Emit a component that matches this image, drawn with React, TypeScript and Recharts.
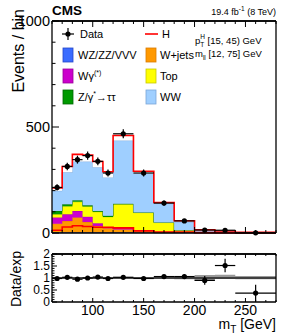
import React from 'react';
import { ComposedChart, Area, Line, Scatter, XAxis, YAxis, ErrorBar, ReferenceLine } from 'recharts';

const FONT = '"Liberation Sans", Arial, Helvetica, sans-serif';

// histogram bin edges in m_T (GeV)
const binEdges = [60, 70, 80, 90, 100, 110, 120, 140, 160, 180, 200, 220, 240, 280];

// stacked backgrounds (events / bin), bottom to top
const vvvEvents = [3, 3, 3, 3, 3, 3, 3, 2, 1, 1, 0.3, 0.2, 0.1];
const wjetsEvents = [41, 54, 70, 49, 30, 19, 14, 8, 4, 3, 1.5, 0.8, 0.4];
const wgEvents = [29, 31, 31, 25, 13, 6, 8, 2, 1, 1, 0.2, 0.1, 0.1];
const topEvents = [15, 38, 43, 48, 54, 48, 111, 84, 43, 8, 3, 2, 1];
const dyEvents = [16, 10, 8, 6, 4, 5, 2, 1, 1, 0.5, 0.2, 0.1, 0.1];
const wwEvents = [95, 150, 182, 206, 206, 181, 298, 184, 89, 39, 8, 5, 1];
const higgsEvents = [13, 28, 34, 31, 27, 27, 24, 10, 5, 5, 2, 1, 0.5];

// observed data
const dataEvents = [215, 314, 346, 365, 338, 283, 468, 283, 141, 57, 14, 13, 1];

// ratio panel
const ratioValues = [0.98, 1.03, 0.95, 1.0, 1.04, 0.98, 1.03, 0.98, 1.06, 1.06, 0.9, 1.52, 0.37];
const ratioErrors = [0.06, 0.05, 0.05, 0.05, 0.05, 0.05, 0.04, 0.05, 0.07, 0.1, 0.18, 0.28, 0.35];
const bandLow = [0.98, 0.98, 0.98, 0.98, 0.98, 0.98, 0.98, 0.98, 0.97, 0.95, 0.9, 0.96, 0.95];
const bandHigh = [1.02, 1.02, 1.02, 1.02, 1.02, 1.02, 1.02, 1.02, 1.03, 1.06, 1.12, 1.14, 1.08];

// axis ticks
const xTicks = [60, 70, 80, 90, 100, 110, 120, 130, 140, 150, 160, 170, 180, 190, 200, 210, 220, 230, 240, 250, 260, 270, 280];
const xMajorTicks = [100, 150, 200, 250];
const yMainTicks = [0, 100, 200, 300, 400, 500, 600, 700, 800, 900, 1000];
const yMainMajor = [0, 500, 1000];
const yMainMax = 1000;
const yRatioTicks = [0, 0.1, 0.2, 0.3, 0.4, 0.5, 0.6, 0.7, 0.8, 0.9, 1, 1.1, 1.2, 1.3, 1.4, 1.5, 1.6, 1.7, 1.8, 1.9, 2];
const yRatioMajor = [0, 0.5, 1, 1.5, 2];
const yRatioMax = 2;

const nBins = binEdges.length - 1;

const mainRows = binEdges.map((x, i) => {
  const j = Math.min(i, nBins - 1);
  return {
    x,
    vvv: vvvEvents[j],
    wjets: wjetsEvents[j],
    wg: wgEvents[j],
    top: topEvents[j],
    dy: dyEvents[j],
    ww: wwEvents[j],
    higgs: higgsEvents[j],
    hLine: higgsEvents[j],
  };
});

const dataPoints = dataEvents.map((v, i) => ({
  x: (binEdges[i] + binEdges[i + 1]) / 2,
  y: v,
  ex: (binEdges[i + 1] - binEdges[i]) / 2,
  ey: Math.sqrt(v),
}));

const ratioRows = binEdges.map((x, i) => {
  const j = Math.min(i, nBins - 1);
  return { x, band: [bandLow[j], bandHigh[j]] };
});

const ratioPoints = ratioValues.map((v, i) => ({
  x: (binEdges[i] + binEdges[i + 1]) / 2,
  y: v,
  ex: (binEdges[i + 1] - binEdges[i]) / 2,
  ey: ratioErrors[i],
}));

type TickCfg = {
  side: 'bottom' | 'top' | 'left' | 'right';
  major: number[];
  majorLen: number;
  minorLen: number;
  label?: boolean;
  skipLabel?: number;
  fontSize?: number;
  offset?: number;
};

const near = (arr: number[], v: number) => arr.some((m) => Math.abs(m - v) < 1e-6);

const makeTick = (cfg: TickCfg) => (props: any) => {
  const { x, y, payload } = props;
  const v = Number(payload.value);
  const isMajor = near(cfg.major, v);
  const len = isMajor ? cfg.majorLen : cfg.minorLen;
  let x2 = x;
  let y2 = y;
  if (cfg.side === 'bottom') y2 = y - len;
  if (cfg.side === 'top') y2 = y + len;
  if (cfg.side === 'left') x2 = x + len;
  if (cfg.side === 'right') x2 = x - len;
  let label = null;
  const showLabel = cfg.label && isMajor && !(cfg.skipLabel !== undefined && Math.abs(cfg.skipLabel - v) < 1e-6);
  if (showLabel) {
    if (cfg.side === 'bottom') {
      label = (
        <text x={x} y={y + (cfg.offset || 0)} textAnchor="middle" fontSize={cfg.fontSize} fontFamily={FONT} fill="#000">
          {String(v)}
        </text>
      );
    } else if (cfg.side === 'left') {
      label = (
        <text x={x - (cfg.offset || 0)} y={y} dy="0.36em" textAnchor="end" fontSize={cfg.fontSize} fontFamily={FONT} fill="#000">
          {String(v)}
        </text>
      );
    }
  }
  return (
    <g>
      <line x1={x} y1={y} x2={x2} y2={y2} stroke="#000" strokeWidth={1} />
      {label}
    </g>
  );
};

const noText = () => '';
const frame = { stroke: '#000', strokeWidth: 1.3 };

const mainBottomTick = makeTick({ side: 'bottom', major: xMajorTicks, majorLen: 6, minorLen: 3 });
const mainTopTick = makeTick({ side: 'top', major: xMajorTicks, majorLen: 6, minorLen: 3 });
const mainLeftTick = makeTick({ side: 'left', major: yMainMajor, majorLen: 7, minorLen: 3.5, label: true, skipLabel: yMainMax, fontSize: 14.5, offset: 2 });
const mainRightTick = makeTick({ side: 'right', major: yMainMajor, majorLen: 7, minorLen: 3.5 });

const ratioBottomTick = makeTick({ side: 'bottom', major: xMajorTicks, majorLen: 4, minorLen: 2, label: true, fontSize: 14, offset: 13 });
const ratioTopTick = makeTick({ side: 'top', major: xMajorTicks, majorLen: 4, minorLen: 2 });
const ratioLeftTick = makeTick({ side: 'left', major: yRatioMajor, majorLen: 5, minorLen: 2.5, label: true, skipLabel: yRatioMax, fontSize: 12, offset: 2 });
const ratioRightTick = makeTick({ side: 'right', major: yRatioMajor, majorLen: 5, minorLen: 2.5 });

const dot = (p: any) => <circle cx={p.cx} cy={p.cy} r={2.6} fill="#000" />;

type LegendItem = { name: string; fill: string; stroke: string };
const legendLeft: LegendItem[] = [
  { name: 'WZ/ZZ/VVV', fill: '#3b6cff', stroke: '#2447c8' },
  { name: 'Wg', fill: '#cc00cc', stroke: '#990099' },
  { name: 'Z/g', fill: '#009a00', stroke: '#006600' },
];
const legendRight: LegendItem[] = [
  { name: 'W+jets', fill: '#ff9900', stroke: '#d97a00' },
  { name: 'Top', fill: '#ffff00', stroke: '#c8c800' },
  { name: 'WW', fill: '#9fcfff', stroke: '#7aa6d8' },
];

const LEG_FS = 11;

const legendText = (name: string, x: number, y: number) => {
  if (name === 'Wg') {
    return (
      <text x={x} y={y} fontSize={LEG_FS}>
        Wγ<tspan fontSize={7} dy={-5}>(*)</tspan>
      </text>
    );
  }
  if (name === 'Z/g') {
    return (
      <text x={x} y={y} fontSize={LEG_FS}>
        Z/γ<tspan fontSize={7} dy={-5}>*</tspan>
        <tspan dy={5}>→ττ</tspan>
      </text>
    );
  }
  return (
    <text x={x} y={y} fontSize={LEG_FS}>
      {name}
    </text>
  );
};

const axisCommon = { interval: 0 as const, tickSize: 0, tickMargin: 0, tickLine: false, axisLine: frame, tickFormatter: noText, fontSize: 1 };

export default function App() {
  const rowCenters = [55, 76, 97];
  return (
    <div style={{ position: 'fixed', left: 0, top: 0, width: 291, height: 336, background: '#fff', overflow: 'hidden' }}>
      <svg width={291} height={336} style={{ position: 'absolute', left: 0, top: 0, pointerEvents: 'none' }} fontFamily={FONT} fill="#000">
        <text x={52} y={15} fontSize={13.5} fontWeight="bold">CMS</text>
        <text x={276} y={15} fontSize={9} textAnchor="end">
          19.4 fb<tspan fontSize={6.5} dy={-4}>-1</tspan>
          <tspan dy={4}> (8 TeV)</tspan>
        </text>
        <text transform="translate(24,9) rotate(-90)" fontSize={16} textAnchor="end">Events / bin</text>
        <text transform="translate(21,251) rotate(-90)" fontSize={14} textAnchor="end">Data/exp</text>
        <text x={276} y={329} fontSize={14} textAnchor="end">
          m<tspan fontSize={10} dy={4}>T</tspan>
          <tspan dy={-4}> [GeV]</tspan>
        </text>
      </svg>
      <div style={{ position: 'absolute', left: 0, top: 0 }}>
        <ComposedChart width={291} height={240} data={mainRows} margin={{ top: 20, right: 14, bottom: 6, left: 0 }}>
          <XAxis dataKey="x" type="number" domain={[60, 280]} ticks={xTicks} height={1} tick={mainBottomTick} {...axisCommon} />
          <XAxis xAxisId="t" orientation="top" dataKey="x" type="number" domain={[60, 280]} ticks={xTicks} height={1} tick={mainTopTick} {...axisCommon} />
          <YAxis type="number" domain={[0, yMainMax]} ticks={yMainTicks} width={52} tick={mainLeftTick} {...axisCommon} />
          <YAxis yAxisId="r" orientation="right" type="number" domain={[0, yMainMax]} ticks={yMainTicks} width={1} tick={mainRightTick} {...axisCommon} />
          <Area type="stepAfter" dataKey="vvv" stackId="s" fill="#3b6cff" fillOpacity={1} stroke="#2447c8" strokeWidth={0.8} isAnimationActive={false} dot={false} activeDot={false} />
          <Area type="stepAfter" dataKey="wjets" stackId="s" fill="#ff9900" fillOpacity={1} stroke="#d97a00" strokeWidth={0.8} isAnimationActive={false} dot={false} activeDot={false} />
          <Area type="stepAfter" dataKey="wg" stackId="s" fill="#cc00cc" fillOpacity={1} stroke="#990099" strokeWidth={0.8} isAnimationActive={false} dot={false} activeDot={false} />
          <Area type="stepAfter" dataKey="top" stackId="s" fill="#ffff00" fillOpacity={1} stroke="#c8c800" strokeWidth={0.8} isAnimationActive={false} dot={false} activeDot={false} />
          <Area type="stepAfter" dataKey="dy" stackId="s" fill="#009a00" fillOpacity={1} stroke="#006600" strokeWidth={0.8} isAnimationActive={false} dot={false} activeDot={false} />
          <Area type="stepAfter" dataKey="ww" stackId="s" fill="#9fcfff" fillOpacity={1} stroke="#7aa6d8" strokeWidth={0.8} isAnimationActive={false} dot={false} activeDot={false} />
          <Area type="stepAfter" dataKey="higgs" stackId="s" fill="#ffffff" fillOpacity={1} stroke="#ff0000" strokeWidth={1.6} isAnimationActive={false} dot={false} activeDot={false} />
          <Line type="stepAfter" dataKey="hLine" stroke="#ff0000" strokeWidth={1.6} dot={false} activeDot={false} isAnimationActive={false} />
          <ReferenceLine y={yMainMax} stroke="#000" strokeWidth={1.3} label={{ value: String(yMainMax), position: 'left', offset: 2, fontSize: 14.5, fill: '#000', fontFamily: FONT }} />
          <Scatter data={dataPoints} dataKey="y" shape={dot} isAnimationActive={false}>
            <ErrorBar dataKey="ey" direction="y" width={0} stroke="#000" strokeWidth={1.2} />
            <ErrorBar dataKey="ex" direction="x" width={0} stroke="#000" strokeWidth={1.2} />
          </Scatter>
        </ComposedChart>
      </div>
      <div style={{ position: 'absolute', left: 0, top: 240 }}>
        <ComposedChart width={291} height={96} data={ratioRows} margin={{ top: 13, right: 14, bottom: 33, left: 0 }}>
          <XAxis dataKey="x" type="number" domain={[60, 280]} ticks={xTicks} height={1} tick={ratioBottomTick} {...axisCommon} />
          <XAxis xAxisId="t" orientation="top" dataKey="x" type="number" domain={[60, 280]} ticks={xTicks} height={1} tick={ratioTopTick} {...axisCommon} />
          <YAxis type="number" domain={[0, yRatioMax]} ticks={yRatioTicks} width={52} tick={ratioLeftTick} {...axisCommon} />
          <YAxis yAxisId="r" orientation="right" type="number" domain={[0, yRatioMax]} ticks={yRatioTicks} width={1} tick={ratioRightTick} {...axisCommon} />
          <Area type="stepAfter" dataKey="band" fill="#999999" fillOpacity={1} stroke="none" isAnimationActive={false} dot={false} activeDot={false} />
          <ReferenceLine y={1} stroke="#222" strokeWidth={1.3} />
          <ReferenceLine y={yRatioMax} stroke="#000" strokeWidth={1.3} label={{ value: String(yRatioMax), position: 'left', offset: 2, fontSize: 12, fill: '#000', fontFamily: FONT }} />
          <Scatter data={ratioPoints} dataKey="y" shape={dot} isAnimationActive={false}>
            <ErrorBar dataKey="ey" direction="y" width={0} stroke="#000" strokeWidth={1.2} />
            <ErrorBar dataKey="ex" direction="x" width={0} stroke="#000" strokeWidth={1.2} />
          </Scatter>
        </ComposedChart>
      </div>
      <svg width={291} height={120} style={{ position: 'absolute', left: 0, top: 0, pointerEvents: 'none' }} fontFamily={FONT} fill="#000">
        <line x1={62} y1={34} x2={74} y2={34} stroke="#000" strokeWidth={1.2} />
        <line x1={68} y1={28} x2={68} y2={40} stroke="#000" strokeWidth={1.2} />
        <circle cx={68} cy={34} r={2.6} fill="#000" />
        <text x={80} y={38} fontSize={LEG_FS}>Data</text>
        <line x1={145} y1={34} x2={158} y2={34} stroke="#ff0000" strokeWidth={1.6} />
        <text x={162} y={38} fontSize={LEG_FS}>H</text>
        {legendLeft.map((it, i) => (
          <g key={it.name}>
            <rect x={63} y={rowCenters[i] - 7} width={10} height={14} fill={it.fill} stroke={it.stroke} strokeWidth={0.8} />
            {legendText(it.name, 78, rowCenters[i] + 4)}
          </g>
        ))}
        {legendRight.map((it, i) => (
          <g key={it.name}>
            <rect x={146} y={rowCenters[i] - 7} width={10} height={14} fill={it.fill} stroke={it.stroke} strokeWidth={0.8} />
            {legendText(it.name, 160, rowCenters[i] + 4)}
          </g>
        ))}
        <text x={195} y={44} fontSize={9.5}>
          p<tspan fontSize={6.5} dy={3}>T</tspan>
          <tspan fontSize={6.5} dx={-4} dy={-8}>H</tspan>
          <tspan dy={5}> [15, 45) GeV</tspan>
        </text>
        <text x={195} y={57} fontSize={9.5}>
          m<tspan fontSize={6.5} dy={2.5}>ll</tspan>
          <tspan dy={-2.5}> [12, 75] GeV</tspan>
        </text>
      </svg>
    </div>
  );
}
